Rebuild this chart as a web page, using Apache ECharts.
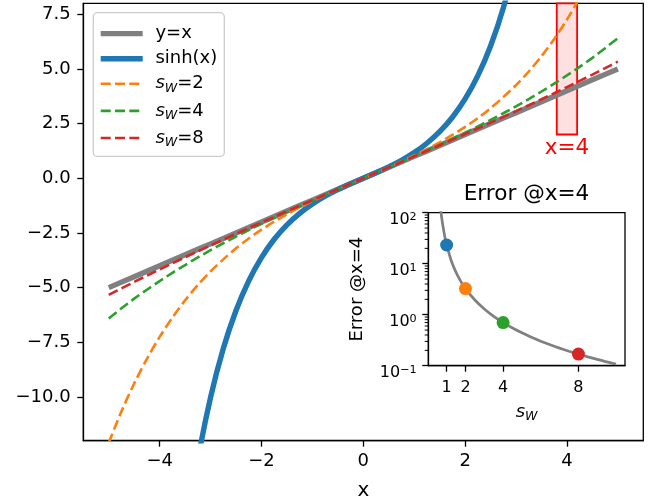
<!DOCTYPE html>
<html>
<head>
<meta charset="utf-8">
<script src="https://cdn.jsdelivr.net/npm/echarts@6/dist/echarts.min.js"></script>
<style>
  html, body { margin: 0; padding: 0; background: #fff; }
  #chart { width: 657px; height: 497px; }
</style>
</head>
<body>
<div id="chart"></div>
<script>
  // main plot: sample positions and curves
  const xs = [-5, -4.75, -4.5, -4.25, -4, -3.75, -3.5, -3.25, -3, -2.75, -2.5, -2.25, -2, -1.75, -1.5, -1.25, -1, -0.75, -0.5, -0.25,
    0, 0.25, 0.5, 0.75, 1, 1.25, 1.5, 1.75, 2, 2.25, 2.5, 2.75, 3, 3.25, 3.5, 3.75, 4, 4.25, 4.5, 4.75, 5];
  const yIdentity = [-5, -4.75, -4.5, -4.25, -4, -3.75, -3.5, -3.25, -3, -2.75, -2.5, -2.25, -2, -1.75, -1.5, -1.25, -1, -0.75, -0.5, -0.25,
    0, 0.25, 0.5, 0.75, 1, 1.25, 1.5, 1.75, 2, 2.25, 2.5, 2.75, 3, 3.25, 3.5, 3.75, 4, 4.25, 4.5, 4.75, 5];
  const ySinh = [null, null, null, null, null, null, -16.543, -12.876, -10.018, -7.789, -6.050, -4.691, -3.627, -2.790, -2.129, -1.602, -1.175, -0.822, -0.521, -0.253,
    0, 0.253, 0.521, 0.822, 1.175, 1.602, 2.129, 2.790, 3.627, 4.691, 6.050, 7.789, 10.018, null, null, null, null, null, null, null, null];
  const ySw2 = [-12.100, -10.658, -9.382, -8.254, -7.254, -6.368, -5.581, -4.882, -4.259, -3.709, -3.204, -2.752, -2.350, -1.984, -1.645, -1.331, -1.042, -0.768, -0.505, -0.251,
    0, 0.251, 0.505, 0.768, 1.042, 1.331, 1.645, 1.984, 2.350, 2.752, 3.204, 3.709, 4.259, 4.882, 5.581, 6.368, 7.254, 8.254, 9.382, 10.658, 12.100];
  const ySw4 = [-6.408, -5.948, -5.503, -5.096, -4.701, -4.324, -3.967, -3.620, -3.289, -2.972, -2.666, -2.371, -2.084, -1.806, -1.535, -1.270, -1.010, -0.754, -0.501, -0.250,
    0, 0.250, 0.501, 0.754, 1.010, 1.270, 1.535, 1.806, 2.084, 2.371, 2.666, 2.972, 3.289, 3.620, 3.967, 4.324, 4.701, 5.096, 5.503, 5.948, 6.408];
  const ySw8 = [-5.332, -5.034, -4.741, -4.453, -4.169, -3.889, -3.612, -3.340, -3.071, -2.805, -2.541, -2.280, -2.021, -1.764, -1.509, -1.255, -1.003, -0.751, -0.500, -0.250,
    0, 0.250, 0.500, 0.751, 1.003, 1.255, 1.509, 1.764, 2.021, 2.280, 2.541, 2.805, 3.071, 3.340, 3.612, 3.889, 4.169, 4.453, 4.741, 5.034, 5.332];

  // highlighted band around x=4
  const bandX = [3.8, 4.2];
  const bandY = [2, 8];

  // inset: error at x=4 against s_W
  const sCurve = [0.5, 0.6, 0.7, 0.75, 0.8, 0.9, 1, 1.25, 1.5, 1.75, 2, 2.5, 3, 3.5, 4, 4.5, 5, 5.5, 6, 6.5, 7, 7.5, 8, 8.5, 9, 9.5, 10];
  const errCurve = [741.2, 231.8, 102.1, 73.6, 55.36, 34.30, 23.29, 11.31, 6.742, 4.515, 3.254, 1.939, 1.295, 0.929, 0.701, 0.548, 0.441, 0.362, 0.303, 0.257, 0.221, 0.192, 0.169, 0.149, 0.133, 0.119, 0.108];
  const sPoints = [1, 2, 4, 8];
  const errPoints = [23.29, 3.254, 0.701, 0.169];

  // tick labels
  const xTicks = [-4, -2, 0, 2, 4];
  const yTicks = [-10, -7.5, -5, -2.5, 0, 2.5, 5, 7.5];
  const insetXTicks = [1, 2, 4, 8];
  const insetMinorTicks = [0.2, 0.3, 0.4, 0.5, 0.6, 0.7, 0.8, 0.9, 2, 3, 4, 5, 6, 7, 8, 9, 20, 30, 40, 50, 60, 70, 80, 90];

  const font = 'DejaVu Sans';
  const pointColors = ['#1f77b4', '#ff7f0e', '#2ca02c', '#d62728'];
  const dash = [10, 4.3];

  function pairs(a, b) {
    return a.map((v, i) => [v, b[i]]);
  }
  function minus(s) {
    return String(s).replace('-', '\u2212');
  }

  const chart = echarts.init(document.getElementById('chart'));

  const baseAxis = {
    type: 'value',
    splitLine: { show: false },
    axisLine: { show: true, onZero: false, lineStyle: { color: '#000', width: 1.3 } },
    axisTick: { show: true, length: 6, lineStyle: { color: '#000', width: 1.3 } },
    nameTextStyle: { color: '#000', fontSize: 18, fontFamily: font }
  };
  const subRich = {
    it: { fontSize: 18, fontFamily: font, fontStyle: 'italic', color: '#000', lineHeight: 22 },
    sub: { fontSize: 12.6, fontFamily: font, fontStyle: 'italic', color: '#000', lineHeight: 13, verticalAlign: 'bottom' },
    n: { fontSize: 18, fontFamily: font, color: '#000', lineHeight: 22 }
  };

  const option = {
    animation: false,
    backgroundColor: '#fff',
    title: {
      text: 'Error @x=4',
      left: 526.5,
      top: 183,
      padding: 0,
      textAlign: 'center',
      textStyle: { fontSize: 21.6, fontWeight: 'normal', color: '#000', fontFamily: font }
    },
    legend: {
      data: ['y=x', 'sinh(x)', 's_W=2', 's_W=4', 's_W=8'],
      orient: 'vertical',
      left: 93.3,
      top: 12.7,
      padding: [11.9, 7, 7.4, 4.7],
      itemWidth: 42,
      itemHeight: 22,
      itemGap: 7.1,
      selectedMode: false,
      backgroundColor: 'rgba(255,255,255,0.8)',
      borderColor: '#cccccc',
      borderWidth: 1.3,
      borderRadius: 4,
      itemStyle: { opacity: 0 },
      lineStyle: { width: 'inherit', type: 'inherit' },
      formatter: function (name) {
        if (name.indexOf('s_W=') === 0) {
          return '{it|s}{sub|W}{n|=' + name.slice(4) + '}';
        }
        return '{n|' + name + '}';
      },
      textStyle: {
        color: '#000',
        fontSize: 18,
        fontFamily: font,
        padding: [0, 0, 0, 7.7],
        rich: subRich
      }
    },
    grid: [
      { left: 83.3, top: 3.3, width: 560, height: 437.4, outerBoundsMode: 'none', containLabel: false,
        show: true, borderColor: '#000', borderWidth: 1.3, backgroundColor: '#fff' },
      { left: 428.3, top: 212.7, width: 196.7, height: 153, outerBoundsMode: 'none', containLabel: false,
        show: true, borderColor: '#000', borderWidth: 1.3, backgroundColor: '#fff', z: 3 }
    ],
    xAxis: [
      Object.assign({}, baseAxis, {
        gridIndex: 0, min: -5.5, max: 5.5,
        axisTick: Object.assign({}, baseAxis.axisTick, { customValues: xTicks }),
        axisLabel: { customValues: xTicks, formatter: v => minus(v), color: '#000', fontSize: 18, fontFamily: font, margin: 11.5 },
        name: 'x', nameLocation: 'middle', nameGap: 40,
        nameTextStyle: { color: '#000', fontSize: 20, fontFamily: font }
      }),
      Object.assign({}, baseAxis, {
        gridIndex: 1, min: 0.025, max: 10.475, z: 4,
        axisTick: Object.assign({}, baseAxis.axisTick, { customValues: insetXTicks }),
        axisLabel: { customValues: insetXTicks, color: '#000', fontSize: 16, fontFamily: font, margin: 14.5 },
        name: '{it|s}{sub|W}', nameLocation: 'middle', nameGap: 36,
        nameTextStyle: { rich: subRich }
      })
    ],
    yAxis: [
      Object.assign({}, baseAxis, {
        gridIndex: 0, min: -12, max: 8,
        axisTick: Object.assign({}, baseAxis.axisTick, { customValues: yTicks }),
        axisLabel: { customValues: yTicks, formatter: v => minus(v.toFixed(1)), color: '#000', fontSize: 18, fontFamily: font, margin: 12.6 }
      }),
      Object.assign({}, baseAxis, {
        type: 'log', logBase: 10, gridIndex: 1, min: 0.1, max: 100, z: 4,
        axisLabel: {
          color: '#000', fontSize: 16, fontFamily: font, margin: 11.6,
          formatter: function (v) {
            const e = Math.round(Math.log10(v));
            return '{b|10}{sup|' + minus(e) + '}';
          },
          rich: {
            b: { fontSize: 16, fontFamily: font, color: '#000', lineHeight: 18, padding: [14, 0, 0, 0] },
            sup: { fontSize: 11.2, fontFamily: font, color: '#000', lineHeight: 14, verticalAlign: 'top', padding: [8, 0, 0, 0] }
          }
        },
        name: 'Error @x=4', nameLocation: 'middle', nameGap: 62
      })
    ],
    series: [
      {
        name: 'y=x', type: 'line', xAxisIndex: 0, yAxisIndex: 0, data: pairs(xs, yIdentity),
        symbol: 'none', lineStyle: { color: '#808080', width: 5.4 }, itemStyle: { color: '#808080' }
      },
      {
        name: 'sinh(x)', type: 'line', xAxisIndex: 0, yAxisIndex: 0, data: pairs(xs, ySinh), smooth: 0.3,
        symbol: 'none', lineStyle: { color: '#1f77b4', width: 5.4 }, itemStyle: { color: '#1f77b4' }
      },
      {
        name: 's_W=2', type: 'line', xAxisIndex: 0, yAxisIndex: 0, data: pairs(xs, ySw2), smooth: 0.3,
        symbol: 'none', lineStyle: { color: '#ff7f0e', width: 2.6, type: dash }, itemStyle: { color: '#ff7f0e' }
      },
      {
        name: 's_W=4', type: 'line', xAxisIndex: 0, yAxisIndex: 0, data: pairs(xs, ySw4), smooth: 0.3,
        symbol: 'none', lineStyle: { color: '#2ca02c', width: 2.6, type: dash }, itemStyle: { color: '#2ca02c' }
      },
      {
        name: 's_W=8', type: 'line', xAxisIndex: 0, yAxisIndex: 0, data: pairs(xs, ySw8), smooth: 0.3,
        symbol: 'none', lineStyle: { color: '#d62728', width: 2.6, type: dash }, itemStyle: { color: '#d62728' }
      },
      {
        name: 'band', type: 'line', xAxisIndex: 0, yAxisIndex: 0, data: [],
        markArea: {
          silent: true,
          itemStyle: { color: 'rgba(255,0,0,0.12)', borderColor: '#ff0000', borderWidth: 1.8 },
          label: { show: true, position: 'bottom', distance: 2, formatter: 'x=4', color: '#ff0000', fontSize: 21.5, fontFamily: font },
          data: [[{ coord: [bandX[0], bandY[0]] }, { coord: [bandX[1], bandY[1]] }]]
        }
      },
      {
        name: 'err', type: 'line', xAxisIndex: 1, yAxisIndex: 1, data: pairs(sCurve, errCurve), z: 5, smooth: 0.2,
        symbol: 'none', lineStyle: { color: '#808080', width: 2.7 }
      },
      {
        name: 'pts', type: 'scatter', xAxisIndex: 1, yAxisIndex: 1, symbolSize: 13, z: 6,
        data: sPoints.map((s, i) => ({ value: [s, errPoints[i]], itemStyle: { color: pointColors[i], opacity: 1 } }))
      },
      {
        name: 'minor', type: 'custom', xAxisIndex: 1, yAxisIndex: 1, silent: true, z: 6,
        data: insetMinorTicks.map(v => [0.025, v]),
        renderItem: function (params, api) {
          const p = api.coord([api.value(0), api.value(1)]);
          return {
            type: 'line',
            shape: { x1: p[0] - 3.6, y1: p[1], x2: p[0], y2: p[1] },
            style: { stroke: '#000', lineWidth: 1 }
          };
        }
      }
    ]
  };

  chart.setOption(option);
</script>
</body>
</html>
